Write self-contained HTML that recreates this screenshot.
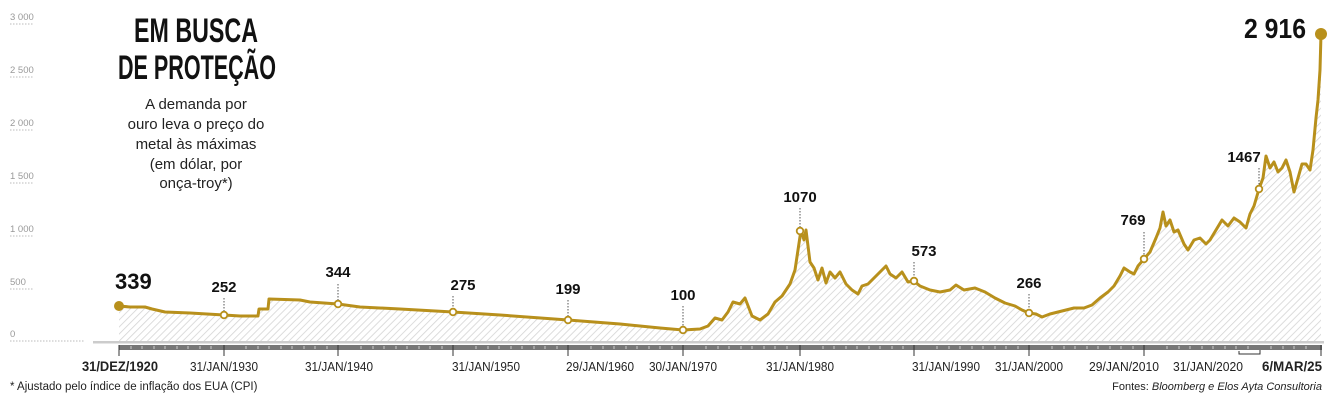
<!DOCTYPE html>
<html><head><meta charset="utf-8"><style>
html,body{margin:0;padding:0;background:#fff;}
svg{display:block;font-family:"Liberation Sans",sans-serif;}
</style></head><body>
<svg width="1334" height="400" viewBox="0 0 1334 400" xmlns="http://www.w3.org/2000/svg">
<defs>
<pattern id="h" width="5" height="5" patternUnits="userSpaceOnUse" patternTransform="rotate(45)">
<rect width="5" height="5" fill="#fff"/><line x1="0" y1="0" x2="0" y2="5" stroke="#d4d4d4" stroke-width="1.6"/>
</pattern>
</defs>
<g font-size="9.5" fill="#999">
<text x="10" y="20">3 000</text><text x="10" y="73">2 500</text><text x="10" y="126">2 000</text>
<text x="10" y="179">1 500</text><text x="10" y="232">1 000</text><text x="10" y="285">500</text><text x="10" y="337">0</text>
</g>
<g stroke="#bbb" stroke-dasharray="1.5,1.5" stroke-width="1">
<line x1="10" y1="24" x2="33" y2="24"/><line x1="10" y1="77" x2="33" y2="77"/><line x1="10" y1="130" x2="33" y2="130"/>
<line x1="10" y1="183" x2="33" y2="183"/><line x1="10" y1="236" x2="33" y2="236"/><line x1="10" y1="289" x2="33" y2="289"/>
<line x1="10" y1="341" x2="85" y2="341"/>
</g>
<g font-weight="bold" font-size="34" fill="#111" text-anchor="middle">
<text x="196" y="42" textLength="124" lengthAdjust="spacingAndGlyphs">EM BUSCA</text>
<text x="197" y="79" textLength="158" lengthAdjust="spacingAndGlyphs">DE PROTEÇÃO</text>
</g>
<g font-size="15" fill="#222" text-anchor="middle">
<text x="196" y="109">A demanda por</text>
<text x="196" y="129">ouro leva o preço do</text>
<text x="196" y="149">metal às máximas</text>
<text x="196" y="169">(em dólar, por</text>
<text x="196" y="188">onça-troy*)</text>
</g>
<path fill="url(#h)" stroke="none" d="M119,341 L119,306 L130,307 L145,307 L152,309 L165,312 L190,313 L224,315 L240,316 L258,316 L259,309 L268,309 L269,299 L300,300 L310,302 L338,304 L360,307 L400,309 L453,312 L500,315 L568,320 L620,324 L660,328 L683,330 L700,329 L708,326 L715,318 L722,320 L728,312 L733,302 L740,304 L745,298 L752,316 L760,320 L768,314 L775,302 L782,296 L790,284 L795,270 L798,250 L801,230 L804,240 L806,230 L810,262 L814,268 L818,280 L822,268 L826,283 L830,272 L835,278 L840,272 L846,284 L852,290 L858,294 L862,286 L868,284 L874,278 L880,272 L886,266 L890,274 L896,278 L902,272 L908,282 L914,281 L920,286 L930,290 L940,292 L950,290 L956,285 L964,290 L975,288 L985,292 L995,298 L1005,303 L1015,306 L1022,310 L1029,313 L1036,314 L1042,317 L1050,314 L1058,312 L1066,310 L1074,308 L1084,308 L1092,305 L1100,298 L1108,292 L1114,286 L1120,276 L1124,268 L1130,272 L1134,274 L1138,266 L1144,259 L1150,252 L1156,238 L1160,228 L1163,212 L1166,226 L1170,220 L1174,232 L1178,230 L1184,244 L1188,250 L1194,240 L1200,238 L1206,244 L1210,240 L1216,230 L1222,220 L1228,226 L1234,218 L1240,222 L1246,228 L1250,214 L1254,206 L1259,189 L1263,178 L1266,156 L1270,168 L1274,162 L1278,172 L1282,168 L1286,160 L1290,172 L1294,192 L1298,178 L1302,164 L1306,164 L1310,170 L1313,150 L1316,118 L1318,100 L1320,70 L1321,34 L1321,341 Z"/>
<path fill="none" stroke="#b8901c" stroke-width="3" stroke-linejoin="round" d="M119,306 L130,307 L145,307 L152,309 L165,312 L190,313 L224,315 L240,316 L258,316 L259,309 L268,309 L269,299 L300,300 L310,302 L338,304 L360,307 L400,309 L453,312 L500,315 L568,320 L620,324 L660,328 L683,330 L700,329 L708,326 L715,318 L722,320 L728,312 L733,302 L740,304 L745,298 L752,316 L760,320 L768,314 L775,302 L782,296 L790,284 L795,270 L798,250 L801,230 L804,240 L806,230 L810,262 L814,268 L818,280 L822,268 L826,283 L830,272 L835,278 L840,272 L846,284 L852,290 L858,294 L862,286 L868,284 L874,278 L880,272 L886,266 L890,274 L896,278 L902,272 L908,282 L914,281 L920,286 L930,290 L940,292 L950,290 L956,285 L964,290 L975,288 L985,292 L995,298 L1005,303 L1015,306 L1022,310 L1029,313 L1036,314 L1042,317 L1050,314 L1058,312 L1066,310 L1074,308 L1084,308 L1092,305 L1100,298 L1108,292 L1114,286 L1120,276 L1124,268 L1130,272 L1134,274 L1138,266 L1144,259 L1150,252 L1156,238 L1160,228 L1163,212 L1166,226 L1170,220 L1174,232 L1178,230 L1184,244 L1188,250 L1194,240 L1200,238 L1206,244 L1210,240 L1216,230 L1222,220 L1228,226 L1234,218 L1240,222 L1246,228 L1250,214 L1254,206 L1259,189 L1263,178 L1266,156 L1270,168 L1274,162 L1278,172 L1282,168 L1286,160 L1290,172 L1294,192 L1298,178 L1302,164 L1306,164 L1310,170 L1313,150 L1316,118 L1318,100 L1320,70 L1321,34"/>
<circle cx="119" cy="306" r="5" fill="#b8901c"/>
<circle cx="1321" cy="34" r="6" fill="#b8901c"/>
<g fill="#fff" stroke="#b8901c" stroke-width="1.8">
<circle cx="224" cy="315" r="3.3"/><circle cx="338" cy="304" r="3.3"/><circle cx="453" cy="312" r="3.3"/>
<circle cx="568" cy="320" r="3.3"/><circle cx="683" cy="330" r="3.3"/><circle cx="800" cy="231" r="3.3"/>
<circle cx="914" cy="281" r="3.3"/><circle cx="1029" cy="313" r="3.3"/><circle cx="1144" cy="259" r="3.3"/><circle cx="1259" cy="189" r="3.3"/>
</g>
<g stroke="#555" stroke-dasharray="1.5,1.5" stroke-width="1">
<line x1="224" y1="298" x2="224" y2="311"/><line x1="338" y1="284" x2="338" y2="300"/><line x1="453" y1="296" x2="453" y2="308"/>
<line x1="568" y1="300" x2="568" y2="316"/><line x1="683" y1="306" x2="683" y2="326"/><line x1="800" y1="208" x2="800" y2="227"/>
<line x1="914" y1="262" x2="914" y2="277"/><line x1="1029" y1="294" x2="1029" y2="309"/><line x1="1144" y1="232" x2="1144" y2="255"/><line x1="1259" y1="168" x2="1259" y2="185"/>
</g>
<g font-size="15" font-weight="bold" fill="#111" text-anchor="middle">
<text x="224" y="292">252</text><text x="338" y="277">344</text><text x="463" y="290">275</text>
<text x="568" y="294">199</text><text x="683" y="300">100</text><text x="800" y="202">1070</text>
<text x="924" y="256">573</text><text x="1029" y="288">266</text><text x="1133" y="225">769</text><text x="1244" y="162">1467</text>
</g>
<text x="115" y="289" font-size="22" font-weight="bold" fill="#111">339</text>
<text x="1306" y="38" font-size="28" font-weight="bold" fill="#111" text-anchor="end" textLength="62" lengthAdjust="spacingAndGlyphs">2 916</text>
<rect x="93" y="341" width="1231" height="2.5" fill="#ccc"/>
<rect x="119" y="345" width="1203" height="5" fill="#777"/>
<g stroke="#ccc" stroke-width="1" id="minor">
<path d="M131,346v3M142,346v3M154,346v3M165,346v3M177,346v3M188,346v3M200,346v3M211,346v3M246,346v3M258,346v3M269,346v3M281,346v3M292,346v3M304,346v3M315,346v3M327,346v3M361,346v3M373,346v3M384,346v3M396,346v3M407,346v3M419,346v3M430,346v3M442,346v3M476,346v3M488,346v3M499,346v3M511,346v3M522,346v3M534,346v3M545,346v3M557,346v3M591,346v3M603,346v3M614,346v3M626,346v3M637,346v3M649,346v3M660,346v3M672,346v3M706,346v3M718,346v3M729,346v3M741,346v3M752,346v3M764,346v3M775,346v3M787,346v3M823,346v3M834,346v3M846,346v3M857,346v3M869,346v3M880,346v3M892,346v3M903,346v3M937,346v3M949,346v3M960,346v3M972,346v3M983,346v3M995,346v3M1006,346v3M1018,346v3M1052,346v3M1064,346v3M1075,346v3M1087,346v3M1098,346v3M1110,346v3M1121,346v3M1133,346v3M1167,346v3M1179,346v3M1190,346v3M1202,346v3M1213,346v3M1225,346v3M1236,346v3M1248,346v3M1271,346v3M1283,346v3M1294,346v3M1306,346v3"/>
</g>
<g stroke="#333" stroke-width="1">
<line x1="119" y1="345" x2="119" y2="356"/><line x1="224" y1="345" x2="224" y2="356"/><line x1="338" y1="345" x2="338" y2="356"/>
<line x1="453" y1="345" x2="453" y2="356"/><line x1="568" y1="345" x2="568" y2="356"/><line x1="683" y1="345" x2="683" y2="356"/>
<line x1="800" y1="345" x2="800" y2="356"/><line x1="914" y1="345" x2="914" y2="356"/><line x1="1029" y1="345" x2="1029" y2="356"/>
<line x1="1144" y1="345" x2="1144" y2="356"/><line x1="1321" y1="345" x2="1321" y2="356"/>
<path d="M1239,351 V354 H1260 V350" fill="none"/>
</g>
<g font-size="12.5" fill="#222" text-anchor="middle" lengthAdjust="spacingAndGlyphs">
<text x="120" y="371" font-weight="bold" font-size="14" textLength="76" lengthAdjust="spacingAndGlyphs">31/DEZ/1920</text>
<text x="224" y="371" textLength="68" lengthAdjust="spacingAndGlyphs">31/JAN/1930</text>
<text x="339" y="371" textLength="68" lengthAdjust="spacingAndGlyphs">31/JAN/1940</text>
<text x="486" y="371" textLength="68" lengthAdjust="spacingAndGlyphs">31/JAN/1950</text>
<text x="600" y="371" textLength="68" lengthAdjust="spacingAndGlyphs">29/JAN/1960</text>
<text x="683" y="371" textLength="68" lengthAdjust="spacingAndGlyphs">30/JAN/1970</text>
<text x="800" y="371" textLength="68" lengthAdjust="spacingAndGlyphs">31/JAN/1980</text>
<text x="946" y="371" textLength="68" lengthAdjust="spacingAndGlyphs">31/JAN/1990</text>
<text x="1029" y="371" textLength="68" lengthAdjust="spacingAndGlyphs">31/JAN/2000</text>
<text x="1124" y="371" textLength="70" lengthAdjust="spacingAndGlyphs">29/JAN/2010</text>
<text x="1208" y="371" textLength="70" lengthAdjust="spacingAndGlyphs">31/JAN/2020</text>
<text x="1322" y="371" font-weight="bold" font-size="14" text-anchor="end" textLength="60" lengthAdjust="spacingAndGlyphs">6/MAR/25</text>
</g>
<text x="10" y="390" font-size="11.5" fill="#222">* Ajustado pelo índice de inflação dos EUA (CPI)</text>
<text x="1322" y="390" font-size="11" fill="#222" text-anchor="end">Fontes: <tspan font-style="italic">Bloomberg e Elos Ayta Consultoria</tspan></text>
</svg>
</body></html>
